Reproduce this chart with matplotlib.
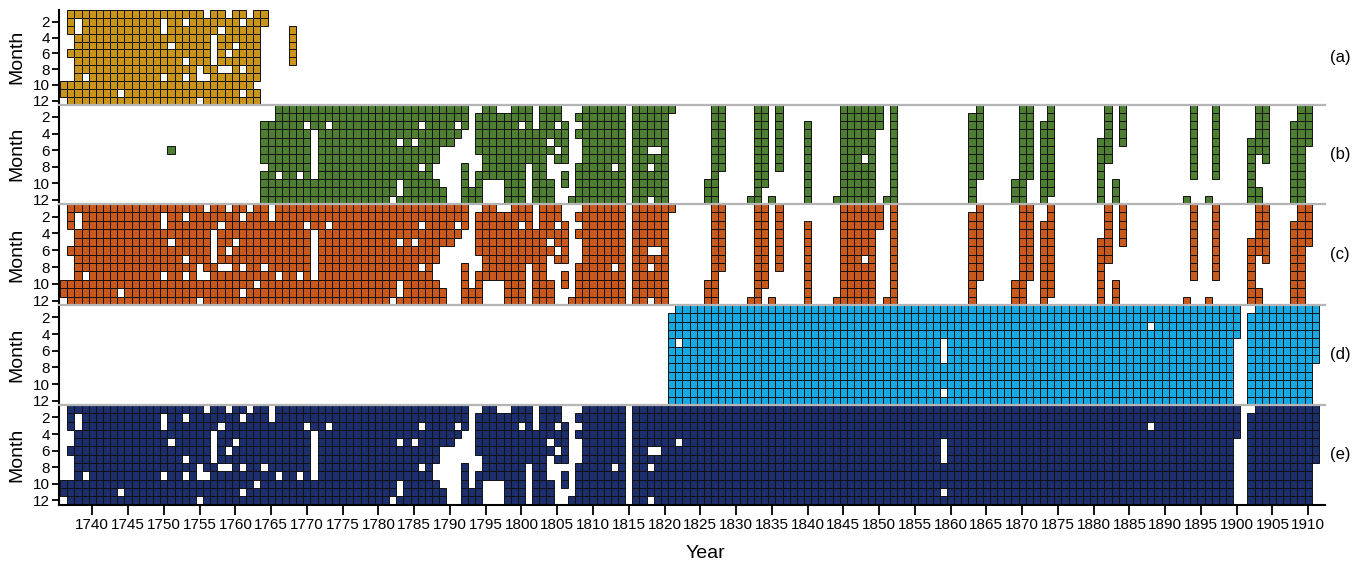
import numpy as np
import matplotlib.pyplot as plt

plt.rcParams['font.family'] = ['Liberation Sans', 'DejaVu Sans']

YEARS = np.arange(1736, 1912)
MONTHS = np.arange(1, 13)
TICK_YEARS = np.arange(1740, 1911, 5)
PANEL_TAGS = ["(a)", "(b)", "(c)", "(d)", "(e)"]
COLORS = ["#C8951A", "#4E7E32", "#C9581D", "#17A9E1", "#1C2E6C"]

# blocks with data: (first year, last year, first month, last month)
a_blocks = [(1736, 1736, 10, 11), (1737, 1763, 1, 12), (1764, 1764, 1, 2),
            (1768, 1768, 3, 7)]
# missing months inside the blocks: (year, first month, last month)
a_gaps = [(1737, 4, 5), (1737, 7, 9), (1738, 2, 3), (1739, 9, 9), (1744, 11, 11),
          (1750, 2, 3), (1750, 9, 9), (1751, 5, 5), (1753, 2, 2), (1753, 7, 7),
          (1753, 9, 9), (1755, 8, 9), (1755, 12, 12), (1756, 1, 1), (1756, 9, 9),
          (1757, 4, 7), (1758, 3, 3), (1758, 8, 8), (1759, 1, 1), (1759, 6, 6),
          (1759, 8, 8), (1760, 5, 5), (1761, 2, 2), (1761, 8, 8), (1761, 11, 11),
          (1762, 1, 1), (1763, 10, 10)]

b_blocks = [(1751, 1751, 6, 6), (1764, 1764, 3, 12), (1765, 1788, 1, 12),
            (1789, 1789, 1, 5), (1789, 1789, 11, 12), (1790, 1790, 1, 5),
            (1791, 1791, 1, 2), (1791, 1791, 4, 4), (1792, 1792, 1, 3),
            (1792, 1792, 8, 12), (1793, 1793, 11, 12), (1794, 1794, 2, 6),
            (1794, 1794, 9, 12), (1795, 1796, 1, 9), (1797, 1797, 2, 9),
            (1798, 1798, 2, 12), (1799, 1800, 1, 12), (1801, 1801, 1, 7),
            (1802, 1802, 4, 12), (1803, 1803, 1, 12), (1804, 1804, 1, 4),
            (1804, 1804, 6, 6), (1804, 1804, 10, 12), (1805, 1805, 1, 2),
            (1805, 1805, 4, 5), (1805, 1805, 7, 7), (1806, 1806, 3, 7),
            (1806, 1806, 9, 10), (1807, 1807, 12, 12), (1808, 1808, 2, 2),
            (1808, 1808, 4, 4), (1808, 1808, 8, 12), (1809, 1814, 1, 12),
            (1816, 1817, 1, 12), (1818, 1818, 1, 5), (1818, 1818, 7, 7),
            (1818, 1818, 9, 11), (1819, 1819, 1, 5), (1819, 1819, 7, 12),
            (1820, 1820, 1, 12), (1821, 1821, 1, 1),
            (1826, 1826, 10, 12), (1827, 1827, 1, 12), (1828, 1828, 1, 8),
            (1832, 1832, 12, 12), (1833, 1833, 1, 12), (1834, 1834, 1, 10),
            (1835, 1835, 12, 12), (1836, 1836, 1, 8), (1840, 1840, 3, 12),
            (1844, 1844, 12, 12), (1845, 1849, 1, 12), (1850, 1850, 1, 3),
            (1851, 1851, 12, 12), (1852, 1852, 1, 12), (1863, 1863, 2, 12),
            (1864, 1864, 1, 9), (1869, 1869, 10, 12), (1870, 1870, 1, 12),
            (1871, 1871, 1, 9), (1873, 1873, 3, 12), (1874, 1874, 1, 11),
            (1881, 1881, 5, 12), (1882, 1882, 1, 7), (1883, 1883, 10, 12),
            (1884, 1884, 1, 5), (1893, 1893, 12, 12), (1894, 1894, 1, 9),
            (1896, 1896, 12, 12), (1897, 1897, 1, 9), (1902, 1902, 5, 12),
            (1903, 1903, 1, 6), (1903, 1903, 11, 12), (1904, 1904, 1, 7),
            (1908, 1908, 3, 12), (1909, 1909, 1, 12), (1910, 1910, 1, 5)]
b_gaps = [(1764, 8, 8), (1765, 1, 2), (1766, 9, 9), (1769, 9, 9), (1770, 3, 3),
          (1771, 4, 9), (1773, 3, 3), (1782, 12, 12), (1783, 5, 5), (1783, 10, 11),
          (1785, 5, 5), (1786, 3, 3), (1786, 8, 8), (1788, 8, 9), (1800, 3, 3),
          (1813, 8, 8), (1848, 7, 7)]

d_blocks = [(1821, 1821, 2, 12), (1822, 1899, 1, 12), (1900, 1900, 1, 4),
            (1902, 1902, 2, 12), (1903, 1910, 1, 12), (1911, 1911, 1, 7)]
d_gaps = [(1822, 5, 5), (1859, 5, 7), (1859, 11, 11), (1888, 3, 3)]


def availability(blocks, gaps=()):
    grid = np.zeros((len(MONTHS), len(YEARS)), dtype=bool)
    for y0, y1, m0, m1 in blocks:
        grid[m0 - 1:m1, y0 - YEARS[0]:y1 - YEARS[0] + 1] = True
    for y, m0, m1 in gaps:
        grid[m0 - 1:m1, y - YEARS[0]] = False
    return grid


grid_a = availability(a_blocks, a_gaps)
grid_b = availability(b_blocks, b_gaps)
grid_d = availability(d_blocks, d_gaps)
# (c) combines (a) and (b); (e) combines (c) and (d)
grid_c = grid_a | grid_b
grid_e = grid_c | grid_d
grids = [grid_a, grid_b, grid_c, grid_d, grid_e]

W, H = 1367, 566
fig = plt.figure(figsize=(W / 100, H / 100), dpi=100)
tops = [10, 104.5, 204, 305, 405]
bottoms = [104.5, 204, 305, 405, 504.5]
left_px, right_px = 58.5, 1325
x_lo = 1740 + (left_px - 92.3) / 7.1525
x_hi = 1740 + (right_px - 92.3) / 7.1525

for i, (grid, color, tag) in enumerate(zip(grids, COLORS, PANEL_TAGS)):
    ax = fig.add_axes([left_px / W, 1 - bottoms[i] / H,
                       (right_px - left_px) / W, (bottoms[i] - tops[i]) / H])
    mi, yi = np.nonzero(grid)
    ax.bar(YEARS[yi], 1, bottom=MONTHS[mi] - 0.5, width=1, color=color,
           edgecolor="#111111", linewidth=0.7, align="center")
    ax.set_xlim(x_lo, x_hi)
    ax.set_ylim(12.5, 0.5)
    ax.set_yticks(MONTHS[1::2])
    ax.tick_params(axis="y", length=5, width=1.3, labelsize=11, pad=1)
    ax.spines["right"].set_visible(False)
    ax.spines["left"].set_linewidth(1.5)
    if i == 0:
        ax.spines["top"].set_visible(False)
    else:
        ax.spines["top"].set_color("#b5b5b5")
        ax.spines["top"].set_linewidth(1.6)
    if i < 4:
        ax.spines["bottom"].set_visible(False)
        ax.set_xticks([])
    else:
        ax.spines["bottom"].set_linewidth(1.5)
        ax.set_xticks(TICK_YEARS)
        ax.tick_params(axis="x", length=7, width=1.3, labelsize=11, pad=3)
    ax.patch.set_alpha(0)
    mid = 1 - (tops[i] + bottoms[i]) / 2 / H
    fig.text(17 / W, mid, "Month", rotation=90, ha="center", va="center", fontsize=14)
    fig.text(1340 / W, mid, tag, ha="center", va="center", fontsize=12)

fig.text(705 / W, 1 - 553 / H, "Year", ha="center", va="center", fontsize=14)

fig.savefig("out.png", dpi=100)
